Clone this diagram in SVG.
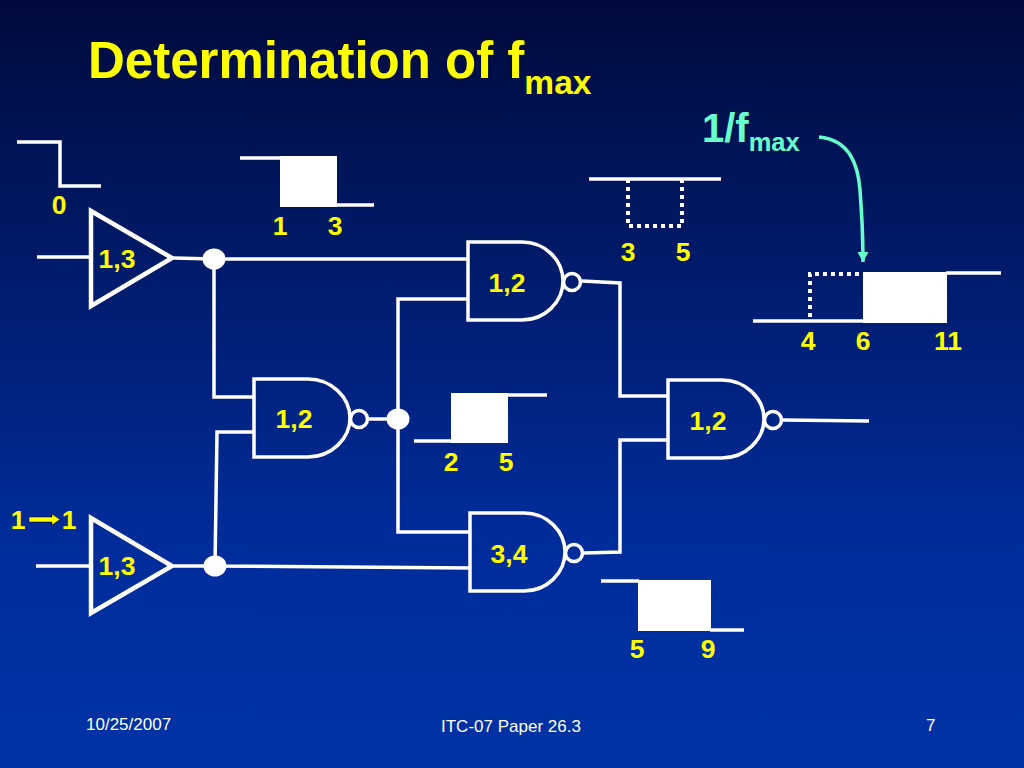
<svg xmlns="http://www.w3.org/2000/svg" width="1024" height="768" viewBox="0 0 1024 768">
<defs>
<linearGradient id="bg" x1="0" y1="0" x2="0" y2="1"><stop offset="0" stop-color="#000a3c"/><stop offset="0.7" stop-color="#002c9a"/><stop offset="1" stop-color="#0033a6"/></linearGradient>
<marker id="tip" markerUnits="userSpaceOnUse" markerWidth="11" markerHeight="11" refX="10" refY="5.500" orient="auto"><path d="M0 0L10 5.500L0 11z" fill="#66ffcc"/></marker>
</defs>
<style>
.w{fill:none;stroke:#fff;stroke-width:3.500}
.g{fill:none;stroke:#fff;stroke-width:3.500}
.b{fill:none;stroke:#fff;stroke-width:4.500}
.f{fill:#fff;stroke:none}
.d{fill:none;stroke:#fff;stroke-width:4;stroke-dasharray:4 4}
text{font-family:"Liberation Sans",Arial,sans-serif;font-weight:bold;fill:#ffff00}
.n{font-size:26.500px;text-anchor:middle}
.foot{font-weight:normal;fill:#fff;font-size:17px}
</style>
<rect width="1024" height="768" fill="url(#bg)"/>
<text x="88" y="78" font-size="51">Determination of f<tspan font-size="33.500" dy="16">max</tspan></text>
<g id="connectors">
<path class="w" d="M37 257H90M174 258L214 259H468M214 259V397H254M215 566L217 432H254M36 566H90M174 566H215L471 568"/>
<path class="w" d="M468 299H398V532H470M368 419H398"/>
<path class="w" d="M582 281L620 283V396H668M584 553L620 552V440H668M782 420L869 421"/>
<path d="M819 137C850 140 858 165 860 190C862 215 863 240 863 262" fill="none" stroke="#66ffcc" stroke-width="3.500" marker-end="url(#tip)"/>
</g>
<g id="junction1"><ellipse class="f" cx="214" cy="259" rx="11.500" ry="10.500"/></g>
<g id="junction2"><ellipse class="f" cx="215" cy="566" rx="11.500" ry="10.500"/></g>
<g id="junction3"><ellipse class="f" cx="398" cy="419" rx="11.500" ry="10.500"/></g>
<g id="buf1"><path class="b" d="M91 211V306L172 258Z"/><text class="n" x="117" y="268">1,3</text></g>
<g id="buf2"><path class="b" d="M91 518V613L172 566Z"/><text class="n" x="117" y="575">1,3</text></g>
<g id="nand1"><path class="g" d="M468 242H522C545 242 563 260 563 281C563 302 545 320 522 320H468Z"/><circle class="g" cx="572" cy="282" r="8.500"/><text class="n" x="507" y="292">1,2</text></g>
<g id="nand2"><path class="g" d="M254 379H308C331 379 350 397 350 418C350 439 331 457 308 457H254Z"/><circle class="g" cx="359" cy="419" r="8.500"/><text class="n" x="294" y="428">1,2</text></g>
<g id="nand3"><path class="g" d="M470 513H524C547 513 565 531 565 552C565 573 547 591 524 591H470Z"/><circle class="g" cx="574" cy="553" r="8.500"/><text class="n" x="509" y="563">3,4</text></g>
<g id="nand4"><path class="g" d="M668 380H722C745 380 764 398 764 419C764 440 745 458 722 458H668Z"/><circle class="g" cx="773" cy="420" r="8.500"/><text class="n" x="708" y="430">1,2</text></g>
<g id="wave0"><path class="w" d="M17 142H60V186H101"/><text class="n" x="59" y="214">0</text></g>
<g id="wave13"><path class="w" d="M240 158H281M337 205H374"/><rect class="f" x="280" y="156" width="57" height="51"/><text class="n" x="280" y="235">1</text><text class="n" x="335" y="235">3</text></g>
<g id="wave35"><path class="w" d="M589 179H721"/><path class="d" d="M628 179V226H682V179"/><text class="n" x="628" y="261">3</text><text class="n" x="683" y="261">5</text></g>
<g id="wave25"><path class="w" d="M414 441H452M507 395H547"/><rect class="f" x="451" y="393" width="57" height="50"/><text class="n" x="451" y="471">2</text><text class="n" x="506" y="471">5</text></g>
<g id="wave59"><path class="w" d="M601 581H639M710 630H744"/><rect class="f" x="638" y="580" width="73" height="51"/><text class="n" x="637" y="658">5</text><text class="n" x="708" y="658">9</text></g>
<g id="wave611"><path class="w" d="M753 321H864M946 273H1001"/><path class="d" d="M810 317V274H863"/><rect class="f" x="863" y="272" width="84" height="51"/><text class="n" x="808" y="350">4</text><text class="n" x="863" y="350">6</text><text class="n" x="948" y="350">11</text></g>
<g id="label-fmax"><text x="702" y="142" font-size="40" style="fill:#66ffcc">1/f<tspan font-size="25.500" dy="9">max</tspan></text></g>
<g id="label-11"><text class="n" x="18" y="529">1</text><text class="n" x="69" y="529">1</text><path d="M29 517H52V514L60 519.500L52 525V522H29Z" fill="#ffff00" stroke="#000" stroke-width="0.500"/></g>
<g id="footer"><text class="foot" x="86" y="730">10/25/2007</text><text class="foot" x="441" y="732">ITC-07 Paper 26.3</text><text class="foot" x="926" y="731">7</text></g>
</svg>
